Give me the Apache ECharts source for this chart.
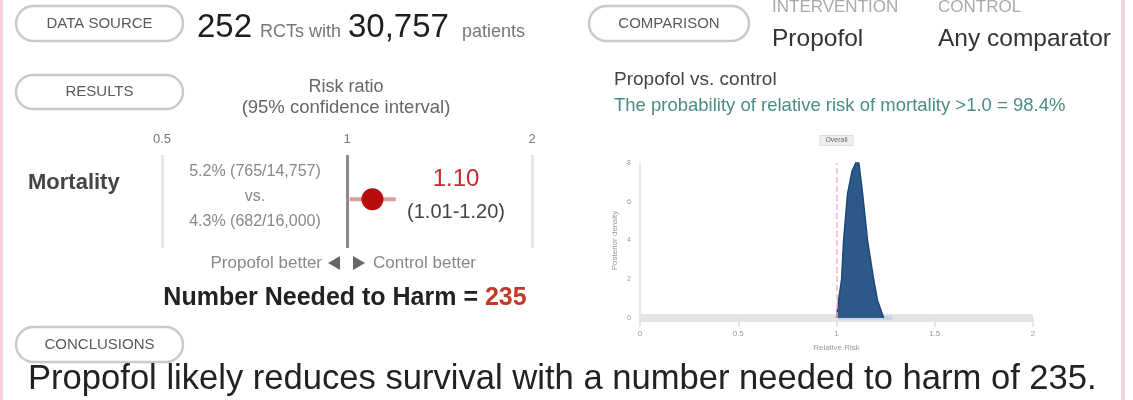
<!DOCTYPE html>
<html><head><meta charset="utf-8">
<script src="https://cdn.jsdelivr.net/npm/echarts@6/dist/echarts.min.js"></script>
<style>html,body{margin:0;padding:0;background:#fff}#c{width:1133px;height:400px}</style>
</head><body><div id="c"></div>
<script>
const FONT = '"Liberation Sans", Arial, sans-serif';
// ---- data ----
const rctCount = '252';
const patientCount = '30,757';
const intervention = 'Propofol';
const control = 'Any comparator';
const outcomes = ['Mortality'];
const riskRatio = [1.10];
const ciLow = [1.01];
const ciHigh = [1.20];
const interventionRate = ['5.2% (765/14,757)'];
const controlRate = ['4.3% (682/16,000)'];
const nnh = [235];
const probAbove1 = ['98.4%'];
const forestTicks = [0.5, 1, 2];
const densityX = [1.00, 1.01, 1.026, 1.036, 1.056, 1.08, 1.100, 1.107, 1.114, 1.133, 1.158, 1.189, 1.209, 1.24];
const densityY = [0, 0.9, 2.0, 4.0, 6.4, 7.6, 8.05, 8.15, 8.0, 6.4, 4.0, 2.0, 0.9, 0];
const densityBand = [1.01, 1.285];
const densityRefLine = [1];

// ---- helpers ----
function txt(text, x, y, size, color, opt) {
  opt = opt || {};
  return {
    type: 'text', x: x, y: y, silent: true,
    style: {
      text: text, fill: color, fontSize: size, fontFamily: FONT,
      fontWeight: opt.bold ? 'bold' : 'normal',
      textAlign: opt.align || 'left', align: opt.align || 'left',
      textVerticalAlign: 'middle', verticalAlign: 'middle',
      rich: opt.rich
    }
  };
}
function pill(label, x, y, w, h) {
  return [
    { type: 'rect', silent: true, shape: { x: x, y: y, width: w, height: h, r: h / 2 },
      style: { fill: '#fff', stroke: '#cacaca', lineWidth: 2.5 } },
    txt(label, x + w / 2, y + h / 2, 15, '#5a5a5a', { align: 'center' })
  ];
}

const graphics = [].concat(
  [{ type: 'rect', silent: true, shape: { x: 0, y: 0, width: 3, height: 400 }, style: { fill: '#f3d3dc' } },
   { type: 'rect', silent: true, shape: { x: 1121, y: 0, width: 4, height: 400 }, style: { fill: '#f3d3dc' } }],
  pill('DATA SOURCE', 16, 6, 167, 35),
  pill('COMPARISON', 589, 6, 160, 35),
  pill('RESULTS', 16, 75, 167, 34),
  pill('CONCLUSIONS', 16, 327, 167, 35),
  [
    txt(rctCount, 197, 27.5, 33, '#1e1e1e'),
    txt('RCTs with', 260, 32, 18, '#777'),
    txt(patientCount, 348, 27.5, 33, '#1e1e1e'),
    txt('patients', 462, 32, 18, '#777'),
    txt('INTERVENTION', 772, 7.5, 17, '#aaa'),
    txt('CONTROL', 938, 7.5, 17, '#aaa'),
    txt(intervention, 772, 39, 24.5, '#333'),
    txt(control, 938, 39, 24.5, '#333'),
    txt('Risk ratio', 346, 87, 18, '#666', { align: 'center' }),
    txt('(95% confidence interval)', 346, 108, 18.5, '#666', { align: 'center' }),
    txt(outcomes[0], 28, 183, 22, '#444', { bold: true }),
    txt(interventionRate[0], 255, 172, 16, '#888', { align: 'center' }),
    txt('vs.', 255, 197, 16, '#888', { align: 'center' }),
    txt(controlRate[0], 255, 222, 16, '#888', { align: 'center' }),
    txt(riskRatio[0].toFixed(2), 456, 179, 24, '#c62a2a', { align: 'center' }),
    txt('(' + ciLow[0].toFixed(2) + '-' + ciHigh[0].toFixed(2) + ')', 456, 212, 20, '#444', { align: 'center' }),
    txt('Propofol better', 322, 263, 17, '#888', { align: 'right' }),
    txt('Control better', 373, 263, 17, '#888'),
    { type: 'polygon', silent: true, shape: { points: [[340, 256], [340, 270], [328, 263]] }, style: { fill: '#666' } },
    { type: 'polygon', silent: true, shape: { points: [[353, 256], [353, 270], [365, 263]] }, style: { fill: '#666' } },
    txt('Number Needed to Harm = {r|' + nnh[0] + '}', 345, 298, 25, '#222', {
      bold: true, align: 'center',
      rich: { r: { fill: '#c0392b', fontSize: 25, fontWeight: 'bold', fontFamily: FONT } }
    }),
    txt(intervention + ' vs. control', 614, 80, 19, '#444'),
    txt('The probability of relative risk of mortality >1.0 = ' + probAbove1[0], 614, 106, 18.5, '#4a8c88'),
    txt(intervention + ' likely reduces survival with a number needed to harm of ' + nnh[0] + '.', 28, 379, 34.6, '#222')
  ]
);

const chart = echarts.init(document.getElementById('c'), null, { renderer: 'canvas' });
const log2 = Math.log2;
chart.setOption({
  animation: false,
  textStyle: { fontFamily: FONT },
  grid: [
    { left: 162, width: 370, top: 155, height: 93 },
    { left: 640, right: 100, top: 163, bottom: 82 }
  ],
  xAxis: [
    { gridIndex: 0, type: 'value', min: log2(forestTicks[0]), max: log2(forestTicks[forestTicks.length - 1]), interval: 1,
      position: 'top', axisLine: { show: false }, axisTick: { show: false }, splitLine: { show: false },
      axisLabel: { fontSize: 13, color: '#777', margin: 9, formatter: v => String(+Math.pow(2, v).toFixed(2)) } },
    { gridIndex: 1, type: 'value', min: 0, max: 2, interval: 0.5,
      axisLine: { show: true, lineStyle: { color: '#e4e4e4', width: 8, cap: 'butt' } },
      axisTick: { show: true, length: 9, lineStyle: { color: '#dedede', width: 1.5 } },
      axisLabel: { fontSize: 8, color: '#999', margin: 12 },
      splitLine: { show: false },
      name: 'Relative Risk', nameLocation: 'middle', nameGap: 26,
      nameTextStyle: { fontSize: 8, color: '#999' } }
  ],
  yAxis: [
    { gridIndex: 0, type: 'value', min: -1.05, max: 0.95, show: false },
    { gridIndex: 1, type: 'value', min: 0, max: 8, interval: 2, offset: 5,
      axisLine: { show: true, lineStyle: { color: '#eaeaea', width: 2 } },
      axisTick: { show: false },
      axisLabel: { fontSize: 7, color: '#999', margin: 4 },
      splitLine: { show: false },
      name: 'Posterior density', nameLocation: 'middle', nameGap: 16,
      nameTextStyle: { fontSize: 8, color: '#999' } }
  ],
  series: [
    { type: 'line', xAxisIndex: 0, yAxisIndex: 0, symbol: 'none', silent: true,
      data: [[log2(ciLow[0]), 0], [log2(ciHigh[0]), 0]],
      lineStyle: { color: '#dd9a9a', width: 4 },
      markLine: { silent: true, symbol: 'none', label: { show: false },
        data: forestTicks.map(t => ({ xAxis: log2(t),
          lineStyle: { color: t === 1 ? '#8a8a8a' : '#e6e6e6', width: 3, type: 'solid' } })) } },
    { type: 'scatter', xAxisIndex: 0, yAxisIndex: 0, silent: true, z: 5,
      data: riskRatio.map(r => [log2(r), 0]), symbolSize: 22, itemStyle: { color: '#b80d0d', opacity: 1 } },
    { type: 'line', xAxisIndex: 1, yAxisIndex: 1, symbol: 'none', silent: true, z: 1,
      data: [[densityBand[0], 0], [densityBand[1], 0]],
      lineStyle: { color: '#c8d5e1', width: 5 } },
    { type: 'line', xAxisIndex: 1, yAxisIndex: 1, symbol: 'none', silent: true, z: 3, smooth: false,
      data: densityX.map((x, i) => [x, densityY[i]]),
      lineStyle: { color: '#1d4878', width: 1.5 },
      areaStyle: { color: '#2c5987', opacity: 1 },
      markLine: { silent: true, symbol: 'none',
        data: densityRefLine.map(v => ({ xAxis: v })),
        lineStyle: { color: '#f3b7c0', type: 'dashed', width: 1.5 },
        label: { show: true, position: 'end', formatter: 'Overall', fontSize: 7, color: '#666',
          backgroundColor: '#eeeeee', borderColor: '#ddd', borderWidth: 1, padding: [1, 5], distance: 18 } } }
  ],
  graphic: { elements: graphics }
});
</script></body></html>
